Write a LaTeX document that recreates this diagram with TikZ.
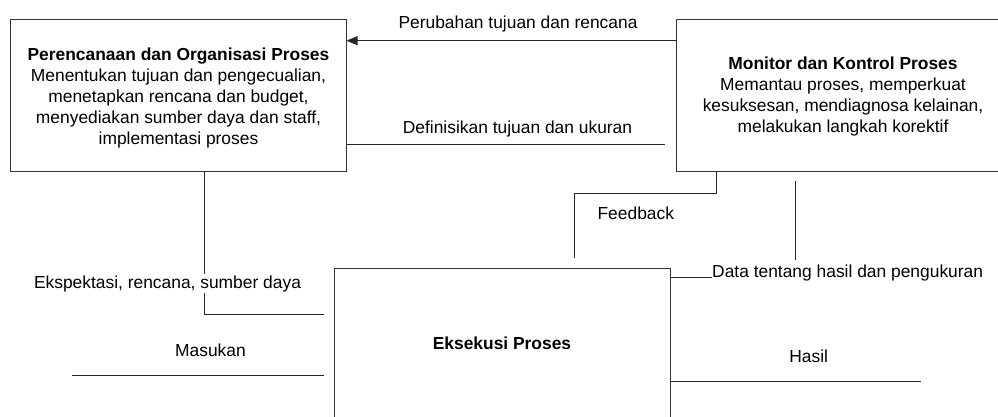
\documentclass[tikz,border=0pt]{standalone}
\usepackage{fontspec}
\setmainfont{Liberation Sans}
\usetikzlibrary{arrows.meta}
\begin{document}
\begin{tikzpicture}[x=1pt,y=-1pt,
  every node/.style={font=\fontsize{17.4}{20.9}\selectfont},
  procbox/.style={draw=black!80, line width=0.9pt, align=center, inner sep=0pt, outer sep=0pt},
  link/.style={draw=black!85, line width=0.9pt},
  lbl/.style={inner sep=0pt, anchor=base},
  tip/.style={-{Triangle[length=11pt,width=9pt]}},
]
\useasboundingbox (0,0) rectangle (998,416);
\clip (0,0) rectangle (998,416);

% the three process blocks
\node[procbox, minimum width=336pt, minimum height=152pt] (plan) at (178.5,95)
  {\rule{0pt}{18pt}\textbf{Perencanaan dan Organisasi Proses}\\
   Menentukan tujuan dan pengecualian,\\
   menetapkan rencana dan budget,\\
   menyediakan sumber daya dan staff,\\
   implementasi proses};
\node[procbox, minimum width=334pt, minimum height=152pt] (mon) at (843,95)
  {\rule{0pt}{16pt}\textbf{Monitor dan Kontrol Proses}\\
   Memantau proses, memperkuat\\
   kesuksesan, mendiagnosa kelainan,\\
   melakukan langkah korektif};
\node[procbox, minimum width=336pt, minimum height=150pt] (eks) at (502,343.5)
  {\textbf{Eksekusi Proses}};

% turning points and free ends of the flows
\coordinate (arrY) at (0,40.7);
\coordinate (defY) at (0,144);
\coordinate (defEnd) at (665,144);
\coordinate (ekX) at (204.5,0);
\coordinate (ekEnd) at (323.7,314.3);
\coordinate (inStart) at (72,375);
\coordinate (inEnd) at (323.7,375);
\coordinate (fbX) at (716,0);
\coordinate (fbTurn) at (574.3,193.3);
\coordinate (fbEnd) at (574.3,257.7);
\coordinate (dataTop) at (795.7,181);
\coordinate (dataBot) at (795.7,260);
\coordinate (outEnd) at (921,381);

% labels
\node[lbl] (lChange) at (518,28.5) {Perubahan tujuan dan rencana};
\node[lbl] (lDefine) at (517.5,133.3) {Definisikan tujuan dan ukuran};
\node[lbl] (lInput) at (210.5,356) {Masukan};
\node[lbl] (lFeed) at (635.8,219.3) {Feedback};
\node[lbl, anchor=base west] (lData) at (712,277.3) {Data tentang hasil dan pengukuran};
\node[lbl] (lOut) at (808.7,362.3) {Hasil};

% flows
\draw[link, tip] (mon.west |- arrY) -- (plan.east |- arrY);
\draw[link] (plan.east |- defY) -- (defEnd);
\draw[link] (plan.south -| ekX) |- (ekEnd);
\draw[link] (inStart) -- (inEnd);
\draw[link] (mon.south -| fbX) |- (fbTurn) -- (fbEnd);
\draw[link] (dataTop) -- (dataBot);
\draw[link] (eks.east |- lData.base) -- (lData.base west);
\draw[link] (eks.east |- outEnd) -- (outEnd);

% label sitting on the resource line
\node[lbl, fill=white, inner sep=1.5pt] (lExpect) at (167.5,288.3) {Ekspektasi, rencana, sumber daya};
\end{tikzpicture}
\end{document}
